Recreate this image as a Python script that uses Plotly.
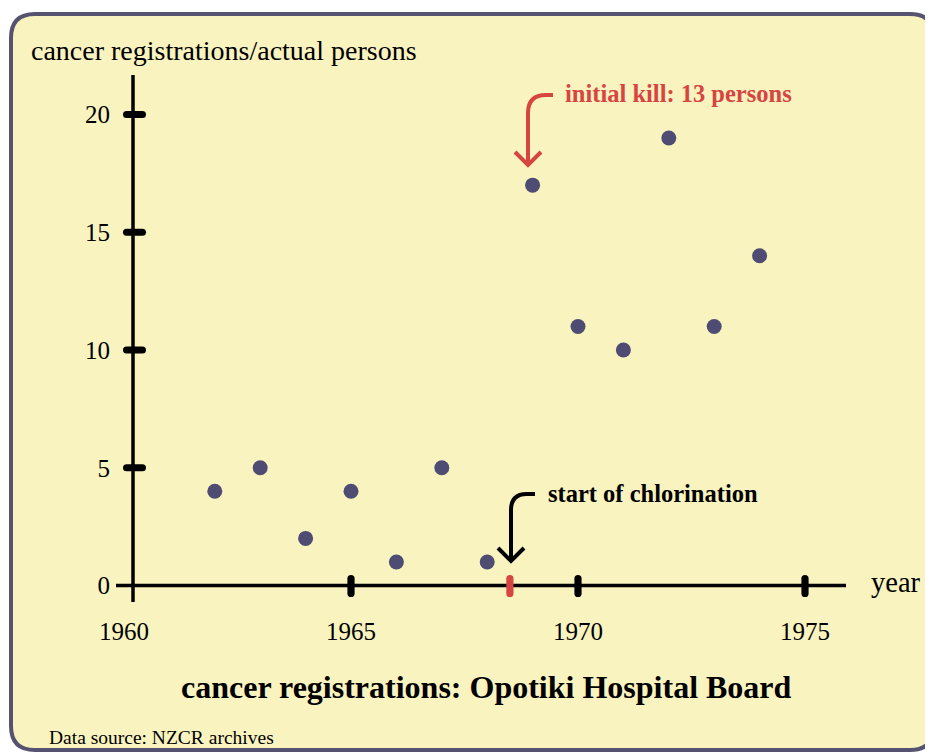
import plotly.graph_objects as go

# ---- data ----
years = [1962, 1963, 1964, 1965, 1966, 1967, 1968, 1969, 1970, 1971, 1972, 1973, 1974]
registrations = [4, 5, 2, 4, 1, 5, 1, 17, 11, 10, 19, 11, 14]
x_tick_years = [1960, 1965, 1970, 1975]
y_tick_values = [0, 5, 10, 15, 20]
x_mark_years = [1965, 1970, 1975]
chlorination_year = 1968.5

OFF = 8                      # page body margin
W, H = 933 - OFF, 752 - OFF  # figure size
# pixel geometry in window coordinates
X0_PX, X_SLOPE = 124.0, 45.4      # pixel of 1960, pixels per year
Y0_PX, Y_SLOPE = 585.5, 23.55     # pixel of 0, pixels per unit

xr = [1960 - (X0_PX - OFF) / X_SLOPE, 1960 + (W - (X0_PX - OFF)) / X_SLOPE]
yr = [-(H - (Y0_PX - OFF)) / Y_SLOPE, (Y0_PX - OFF) / Y_SLOPE]

def px(x):
    return (x - OFF) / W

def py(y):
    return 1 - (y - OFF) / H

def path(cmds):
    out = []
    for c in cmds:
        if isinstance(c, str):
            out.append(c)
        else:
            out.append(f"{px(c[0]):.5f},{py(c[1]):.5f}")
    return " ".join(out)

BG = "#f9f3bf"
DOT = "#4e4c72"
RED = "#d64541"
FONT = "Liberation Serif"

fig = go.Figure()
fig.add_trace(go.Scatter(
    x=years, y=registrations, mode="markers",
    marker=dict(color=DOT, size=15, line=dict(width=0)),
    hoverinfo="x+y", showlegend=False,
))

shapes = []
# rounded panel
L, T, R, B, r = 11, 14, 934, 750, 24
shapes.append(dict(
    type="path", xref="paper", yref="paper", layer="below",
    path=path(["M", (L + r, T), "L", (R - r, T), "Q", (R, T), (R, T + r),
               "L", (R, B - r), "Q", (R, B), (R - r, B), "L", (L + r, B),
               "Q", (L, B), (L, B - r), "L", (L, T + r), "Q", (L, T), (L + r, T), "Z"]),
    fillcolor=BG, line=dict(color="#55536f", width=4),
))
# axes lines
shapes.append(dict(type="line", xref="paper", yref="paper",
                   x0=px(116), x1=px(846), y0=py(Y0_PX), y1=py(Y0_PX),
                   line=dict(color="black", width=3.5)))
shapes.append(dict(type="line", xref="paper", yref="paper",
                   x0=px(133), x1=px(133), y0=py(75), y1=py(602),
                   line=dict(color="black", width=3.5)))

HW = 3.6  # half thickness of tick marks, px

def ytick(v):
    dy = HW / Y_SLOPE
    a, b = px(123), px(146)
    ha = HW / W
    return dict(type="path", xref="paper", yref="y", line=dict(width=0), fillcolor="black",
                path=(f"M {a+ha:.5f},{v+dy:.4f} L {b-ha:.5f},{v+dy:.4f} "
                      f"Q {b:.5f},{v+dy:.4f} {b:.5f},{v:.4f} Q {b:.5f},{v-dy:.4f} {b-ha:.5f},{v-dy:.4f} "
                      f"L {a+ha:.5f},{v-dy:.4f} Q {a:.5f},{v-dy:.4f} {a:.5f},{v:.4f} "
                      f"Q {a:.5f},{v+dy:.4f} {a+ha:.5f},{v+dy:.4f} Z"))

def xtick(v, color):
    dx = HW / X_SLOPE
    top, bot = py(575), py(597)
    hv = HW / H
    return dict(type="path", xref="x", yref="paper", line=dict(width=0), fillcolor=color,
                path=(f"M {v-dx:.4f},{top-hv:.5f} Q {v-dx:.4f},{top:.5f} {v:.4f},{top:.5f} "
                      f"Q {v+dx:.4f},{top:.5f} {v+dx:.4f},{top-hv:.5f} L {v+dx:.4f},{bot+hv:.5f} "
                      f"Q {v+dx:.4f},{bot:.5f} {v:.4f},{bot:.5f} Q {v-dx:.4f},{bot:.5f} {v-dx:.4f},{bot+hv:.5f} Z"))

for v in y_tick_values[1:]:
    shapes.append(ytick(v))
for v in x_mark_years:
    shapes.append(xtick(v, "black"))
shapes.append(xtick(chlorination_year, RED))

# arrows
shapes.append(dict(type="path", xref="paper", yref="paper",
                   path=path(["M", (553, 95), "L", (546, 95), "Q", (528, 95), (528, 113), "L", (528, 164)]),
                   line=dict(color=RED, width=4)))
shapes.append(dict(type="path", xref="paper", yref="paper",
                   path=path(["M", (515, 152), "L", (528, 165), "L", (541, 152)]),
                   line=dict(color=RED, width=4)))
shapes.append(dict(type="path", xref="paper", yref="paper",
                   path=path(["M", (535, 494), "L", (527, 494), "Q", (511, 494), (511, 510), "L", (511, 561)]),
                   line=dict(color="black", width=4)))
shapes.append(dict(type="path", xref="paper", yref="paper",
                   path=path(["M", (498, 548), "L", (511, 561), "L", (524, 548)]),
                   line=dict(color="black", width=4)))

def ann(text, x, y, size, color="black", xanchor="left"):
    return dict(text=text, xref="paper", yref="paper", x=px(x), y=py(y),
                xanchor=xanchor, yanchor="middle", showarrow=False,
                font=dict(family=FONT, size=size, color=color))

annotations = [
    ann("cancer registrations/actual persons", 29, 51, 28),
    ann("<b>initial kill: 13 persons</b>", 563, 93, 24.5, RED),
    ann("<b>start of chlorination</b>", 546, 493, 24.5),
    ann("year", 869, 582, 28.5),
    ann("<b>cancer registrations: Opotiki Hospital Board</b>", 486, 687, 32, xanchor="center"),
    ann("Data source: NZCR archives", 47, 737, 19.5),
]

fig.update_layout(
    width=W, height=H,
    margin=dict(l=0, r=0, t=0, b=0, pad=0),
    paper_bgcolor="white", plot_bgcolor="rgba(0,0,0,0)",
    shapes=shapes, annotations=annotations,
    font=dict(family=FONT, size=25, color="black"),
    xaxis=dict(range=xr, domain=[0, 1], anchor="free", position=py(Y0_PX),
               tickmode="array", tickvals=x_tick_years, ticktext=[str(v) for v in x_tick_years],
               ticks="", showgrid=False, zeroline=False, showline=False,
               ticklabelstandoff=28, tickfont=dict(family=FONT, size=25)),
    yaxis=dict(range=yr, domain=[0, 1], anchor="free", position=px(133),
               tickmode="array", tickvals=y_tick_values, ticktext=[str(v) for v in y_tick_values],
               ticks="", showgrid=False, zeroline=False, showline=False,
               ticklabelstandoff=23, tickfont=dict(family=FONT, size=25)),
    hovermode="closest",
)

fig.write_html("out.html")
